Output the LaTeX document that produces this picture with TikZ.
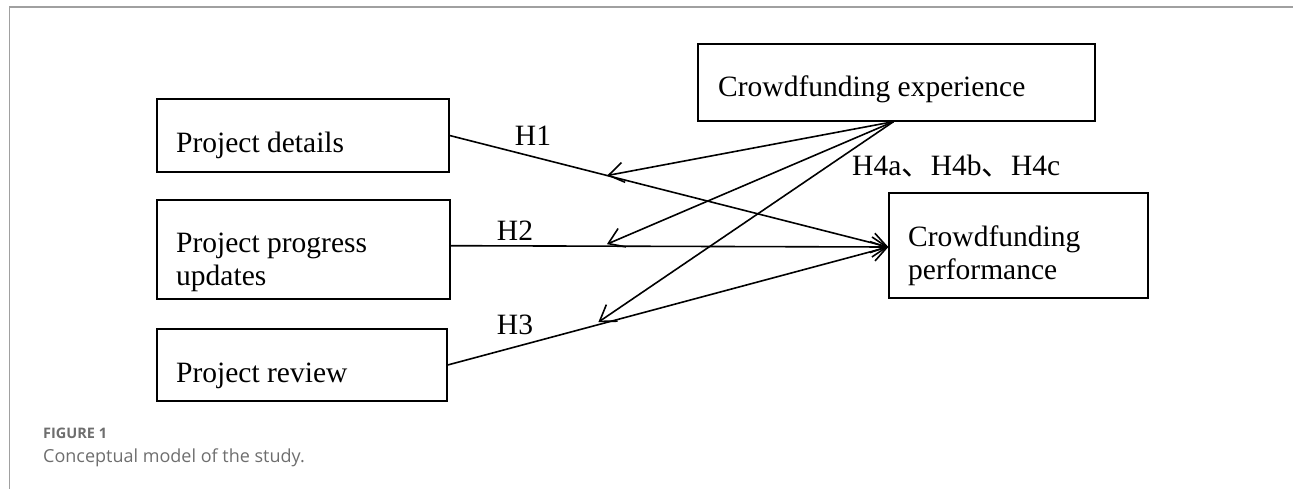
\documentclass[tikz,border=0pt]{standalone}
\usepackage{fontspec}
\setmainfont{Liberation Serif}
\newfontfamily\capfont{Open Sans}
\newfontfamily\cjk{Noto Sans CJK SC}
\usetikzlibrary{arrows.meta,calc}
\definecolor{framegray}{HTML}{A0A0A0}
\definecolor{capgray}{HTML}{6E6E6E}
\tikzset{
  boxst/.style={draw, line width=1.3pt, rectangle, inner sep=0pt},
  txt/.style={font=\fontsize{29.5}{33}\selectfont, inner sep=0pt, anchor=base west},
  hlab/.style={font=\fontsize{29.5}{33}\selectfont, inner sep=0pt, anchor=base},
  conn/.style={line width=1.6pt, -{Straight Barb[length=15pt,width=20pt,line width=1.6pt]}},
}
\begin{document}
\begin{tikzpicture}[x=1pt,y=-1pt]
\useasboundingbox (0,0) rectangle (1293,488);
\draw[framegray, line width=1.8pt] (9.5,500) -- (9.5,7) -- (1300,7);
% boxes
\node[boxst, minimum width=292pt, minimum height=73pt] (pd) at (303,135.5) {};
\node[boxst, minimum width=293pt, minimum height=99pt] (pu) at (303.5,249.5) {};
\node[boxst, minimum width=290pt, minimum height=72pt] (pr) at (302,365) {};
\node[boxst, minimum width=397pt, minimum height=77pt] (ce) at (896.5,82.5) {};
\node[boxst, minimum width=259pt, minimum height=105pt] (cp) at (1018.5,245.5) {};
% box texts
\node[txt] (pdt) at (176,152.7) {Project details};
\node[txt] (put1) at (176,252.3) {Project progress};
\node[txt] (put2) at (176,285) {updates};
\node[txt] (prt) at (176,382) {Project review};
\node[txt] (cet) at (718,96.7) {Crowdfunding experience};
\node[txt] (cpt1) at (908,246.7) {Crowdfunding};
\node[txt] (cpt2) at (908,279) {performance};
% labels
\node[hlab] (h1) at (533,145) {H1};
\node[hlab] (h2) at (515,240) {H2};
\node[hlab] (h3) at (515,334) {H3};
\node[txt] (h4) at (852,175) {H4a{\cjk 、}H4b{\cjk 、}H4c};
% connectors
\coordinate (cpin) at ([yshift=-1.5pt]cp.west);
\coordinate (pus) at ([yshift=3.8pt]pu.east);
\draw[conn] (pd.east) -- (cpin);
\draw[conn] (pus) -- (cpin);
\draw[conn] (pr.east) -- (cpin);
\coordinate (ces) at ([xshift=-3pt]ce.south);
\coordinate (m1) at ($(pd.east)!0.359!(cpin)$);
\coordinate (m2) at ([yshift=2pt]$(pus)!0.357!(cpin)$);
\coordinate (m3) at ([yshift=2.5pt]$(pr.east)!0.342!(cpin)$);
\draw[conn] (ces) -- (m1);
\draw[conn] (ces) -- (m2);
\draw[conn] (ces) -- (m3);
% caption
\node[font=\capfont\bfseries\fontsize{14.5}{16}\selectfont, text=capgray, inner sep=0pt, anchor=base west] (fig) at (43,438) {FIGURE 1};
\node[font=\capfont\fontsize{18}{20}\selectfont, text=capgray, inner sep=0pt, anchor=base west] (cap) at (43,462) {Conceptual model of the study.};
\end{tikzpicture}
\end{document}
